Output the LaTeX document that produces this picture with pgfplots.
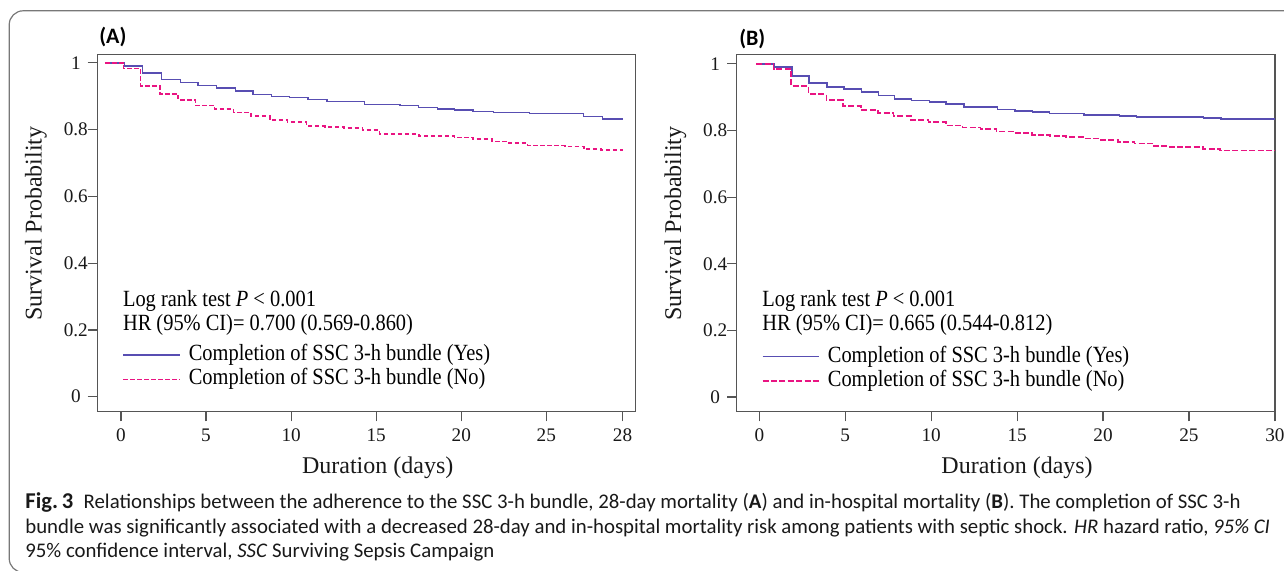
\documentclass[border=0pt]{standalone}
\usepackage{fontspec}
\setmainfont{Liberation Serif}
\newfontfamily\annfont{Liberation Serif}[FakeStretch=0.88]
\newfontfamily\capfont{Carlito}
\usepackage{pgfplots}
\pgfplotsset{compat=1.18}

\definecolor{kmblue}{RGB}{88,78,178}
\definecolor{kmpink}{RGB}{233,20,130}
\definecolor{axgray}{RGB}{85,85,85}
\definecolor{boxgray}{RGB}{120,120,120}

% curve data, one table per series
\pgfplotstableread{
x y
-0.94 1.000
0.20 0.991
1.27 0.970
2.38 0.950
3.50 0.941
4.52 0.932
5.62 0.925
6.74 0.916
7.75 0.905
8.86 0.900
9.90 0.897
11.00 0.890
12.10 0.885
14.30 0.875
16.40 0.872
17.50 0.866
18.60 0.862
19.60 0.859
20.70 0.855
21.90 0.852
24.00 0.849
25.00 0.848
27.20 0.839
28.30 0.832
29.48 0.832
}\dataAyes
\pgfplotstableread{
x y
-0.94 1.000
0.14 0.983
1.15 0.931
2.28 0.907
3.35 0.889
4.39 0.872
5.50 0.861
6.61 0.851
7.64 0.841
8.75 0.829
9.78 0.823
10.90 0.811
12.00 0.808
13.10 0.804
14.20 0.798
15.20 0.787
17.50 0.781
19.60 0.776
20.70 0.771
21.80 0.764
22.80 0.759
23.90 0.752
26.10 0.750
27.20 0.742
28.20 0.739
29.48 0.739
}\dataAno
\pgfplotstableread{
x y
-0.18 1.000
0.85 0.991
1.90 0.964
2.90 0.942
3.93 0.930
4.93 0.924
5.95 0.916
6.93 0.905
7.86 0.894
8.86 0.890
9.89 0.886
10.86 0.879
11.90 0.871
13.86 0.863
14.88 0.859
15.90 0.855
16.90 0.851
18.90 0.847
20.95 0.844
21.95 0.841
25.83 0.837
26.86 0.834
30.00 0.834
}\dataByes
\pgfplotstableread{
x y
-0.18 1.000
0.83 0.985
1.86 0.933
2.86 0.909
3.90 0.891
4.88 0.873
5.90 0.862
6.90 0.853
7.80 0.843
8.82 0.831
9.84 0.826
10.85 0.815
11.83 0.809
12.86 0.805
13.80 0.797
14.80 0.792
15.88 0.787
16.90 0.784
17.86 0.780
18.93 0.776
19.88 0.771
20.88 0.765
21.83 0.761
22.86 0.754
23.86 0.750
25.83 0.745
26.80 0.740
30.00 0.740
}\dataBno

\tikzset{ann/.style={anchor=west, inner sep=0pt, font=\annfont\fontsize{11.6}{13}\selectfont}}

\pgfplotsset{
  kmaxis/.style={
    scale only axis, width=269.1pt, height=178.6pt,
    axis line style={axgray, line width=0.65pt},
    tick align=outside, major tick length=4.8pt,
    tick style={axgray, line width=0.6pt},
    xtick pos=lower, ytick pos=left,
    ytick={0,0.2,0.4,0.6,0.8,1},
    yticklabels={0,0.2,0.4,0.6,0.8,1},
    tick label style={font=\fontsize{9.6}{11}\selectfont, text=black!90},
    yticklabel style={anchor=center, xshift=-5.95pt},
    xticklabel style={anchor=center, yshift=-6.85pt},
    xlabel={Duration (days)},
    ylabel={Survival Probability},
    label style={font=\fontsize{12}{14}\selectfont, text=black!90},
    xlabel style={at={(axis description cs:0.521,-0.1576)}, anchor=center},
    ylabel style={at={(axis description cs:-0.1139,0.527)}, anchor=center},
    title style={font=\capfont\bfseries\fontsize{11}{13}\selectfont, anchor=west, inner sep=0pt, yshift=-6.6pt},
    legend style={draw=none, fill=none, inner sep=0pt, outer sep=0pt,
      font=\annfont\fontsize{11.6}{13}\selectfont, row sep=1.75pt,
      nodes={inner sep=0pt, text height=7.9pt, text depth=2.6pt}},
    legend cell align=left,
    legend image code/.code={\draw[##1] (0pt,0pt) -- (28.3pt,0pt); \path (32.3pt,0pt);},
  }
}

\begin{document}
\begin{tikzpicture}
\useasboundingbox (0,0) rectangle (642pt,-285.5pt);
\begin{scope}
  \clip (0,0) rectangle (642pt,-285.5pt);
  \draw[boxgray, line width=0.6pt, rounded corners=7pt] (4.6pt,-5.4pt) rectangle (700pt,-286.2pt);
\end{scope}

% panel A
\begin{axis}[kmaxis,
  at={(48.65pt,-205.85pt)}, anchor=south west,
  xmin=-1.39, xmax=30.24, ymin=-0.045, ymax=1.025,
  xtick={0,5,10,15,20,25,29.48},
  xticklabels={0,5,10,15,20,25,28},
  title={(A)}, title style={at={(axis description cs:0.003,1.0524)}},
  legend style={at={(axis cs:0.1,0.088)}, anchor=west},
]
\addplot[const plot, kmblue, line width=0.7pt] table[x=x, y=y] {\dataAyes};
\addlegendentry{Completion of SSC 3-h bundle (Yes)}
\addplot[const plot, kmpink, line width=0.8pt, dash pattern=on 2.3pt off 1.2pt] table[x=x, y=y] {\dataAno};
\addlegendentry{Completion of SSC 3-h bundle (No)}
\node[ann] at (axis cs:0.1,0.287) {Log rank test \textit{P} < 0.001};
\node[ann] at (axis cs:0.1,0.214) {HR (95\% CI)= 0.700 (0.569-0.860)};
\end{axis}

% panel B
\begin{axis}[kmaxis,
  at={(368.35pt,-205.85pt)}, anchor=south west,
  xmin=-1.315, xmax=30, ymin=-0.044, ymax=1.028,
  xtick={0,5,10,15,20,25,30},
  xticklabels={0,5,10,15,20,25,30},
  title={(B)}, title style={at={(axis description cs:0.004,1.0476)}},
  legend style={at={(axis cs:0.14,0.084)}, anchor=west},
]
\addplot[const plot, kmblue, line width=0.7pt] table[x=x, y=y] {\dataByes};
\addlegendentry{Completion of SSC 3-h bundle (Yes)}
\addplot[const plot, kmpink, line width=0.8pt, dash pattern=on 3pt off 1.2pt] table[x=x, y=y] {\dataBno};
\addlegendentry{Completion of SSC 3-h bundle (No)}
\node[ann] at (axis cs:0.16,0.288) {Log rank test \textit{P} < 0.001};
\node[ann] at (axis cs:0.16,0.216) {HR (95\% CI)= 0.665 (0.544-0.812)};
\end{axis}

% caption
\begin{scope}[every node/.style={anchor=base west, inner sep=0pt, font=\capfont\fontsize{10.4}{12}\selectfont, text=black!90}]
\node at (12.5pt,-254.15pt) {{\fontsize{11.3}{12}\selectfont\textbf{Fig.\,3}}\hspace{0.5em}Relationships between the adherence to the SSC 3-h bundle, 28-day mortality (\textbf{A}) and in-hospital mortality (\textbf{B}). The completion of SSC 3-h};
\node at (12.5pt,-266.5pt) {bundle was significantly associated with a decreased 28-day and in-hospital mortality risk among patients with septic shock. \textit{HR} hazard ratio, \textit{95\% CI}};
\node at (12.5pt,-278.85pt) {95\% confidence interval, \textit{SSC} Surviving Sepsis Campaign};
\end{scope}
\end{tikzpicture}
\end{document}
